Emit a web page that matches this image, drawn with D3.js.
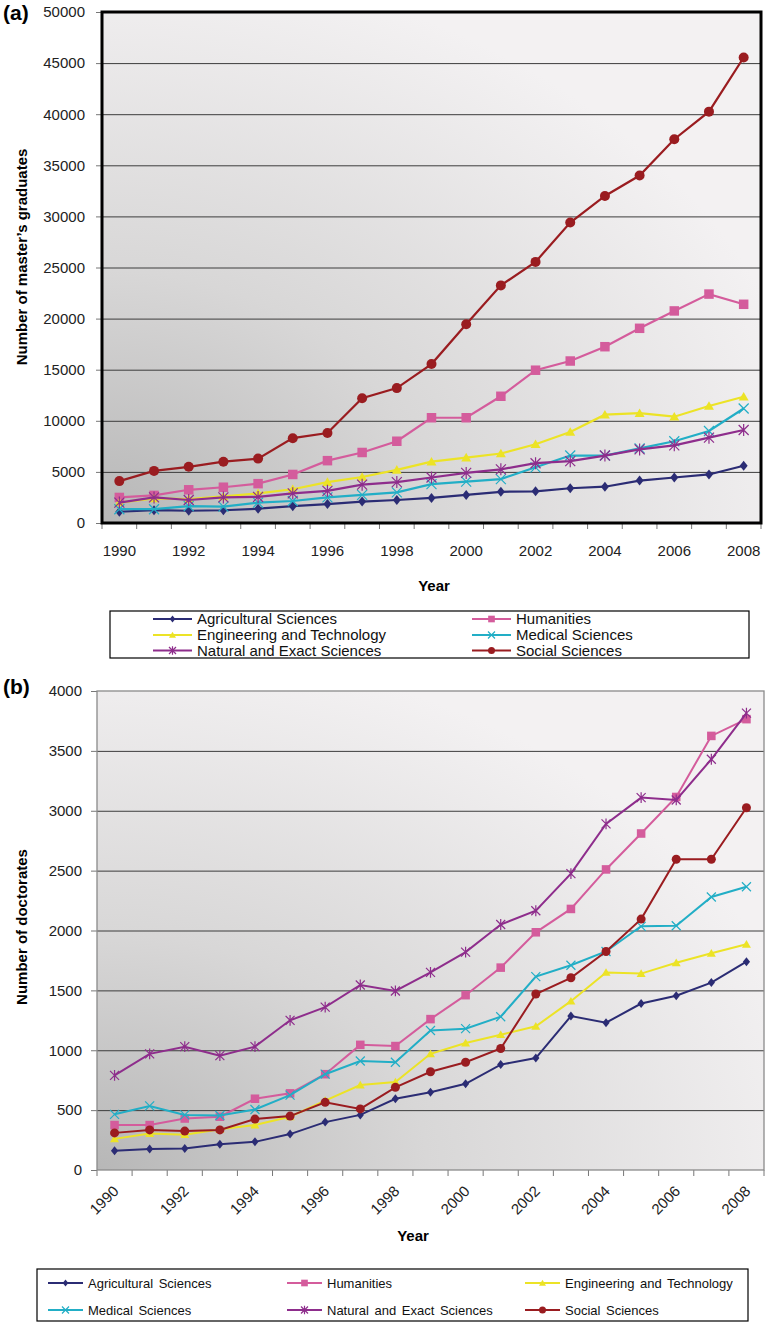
<!DOCTYPE html>
<html>
<head>
<meta charset="utf-8">
<script src="https://cdn.jsdelivr.net/npm/d3@7"></script>
<style>
  body { margin: 0; background: #fff; }
  svg { display: block; font-family: "Liberation Sans", Arial, sans-serif; }
</style>
</head>
<body>
<div id="chart"></div>
<script>
// categories
var years = [1990, 1991, 1992, 1993, 1994, 1995, 1996, 1997, 1998, 1999,
             2000, 2001, 2002, 2003, 2004, 2005, 2006, 2007, 2008];
var yearLabels = [1990, 1992, 1994, 1996, 1998, 2000, 2002, 2004, 2006, 2008];
var seriesNames = ["Agricultural Sciences", "Humanities", "Engineering and Technology",
                   "Medical Sciences", "Natural and Exact Sciences", "Social Sciences"];
var seriesColors = ["#2b2c74", "#d45c9c", "#ece326", "#22aec6", "#8e2d8c", "#9a1c20"];
var seriesMarkers = ["diamond", "square", "triangle", "cross", "star", "circle"];

// (a) master's graduates
var mastersTicks = [0, 5000, 10000, 15000, 20000, 25000, 30000, 35000, 40000, 45000, 50000];
var mastersAgri = [1100, 1250, 1200, 1250, 1400, 1650, 1850, 2100, 2250, 2450, 2750, 3050, 3100, 3400, 3550, 4150, 4450, 4750, 5600];
var mastersHum  = [2500, 2700, 3250, 3500, 3850, 4750, 6100, 6900, 8000, 10300, 10300, 12400, 14950, 15850, 17250, 19050, 20750, 22400, 21400];
var mastersEng  = [2000, 2400, 2350, 2600, 2900, 3300, 4000, 4500, 5200, 6000, 6400, 6800, 7700, 8900, 10600, 10750, 10400, 11450, 12350];
var mastersMed  = [1350, 1350, 1650, 1600, 2000, 2150, 2500, 2750, 3000, 3800, 4050, 4300, 5450, 6600, 6600, 7300, 8000, 9000, 11200];
var mastersNat  = [2000, 2500, 2250, 2500, 2550, 2900, 3150, 3750, 4000, 4450, 4900, 5250, 5850, 6050, 6600, 7200, 7600, 8350, 9100];
var mastersSoc  = [4100, 5100, 5500, 6000, 6300, 8300, 8800, 12200, 13200, 15550, 19450, 23250, 25550, 29400, 32000, 34000, 37550, 40250, 45550];

// (b) doctorates
var doctorTicks = [0, 500, 1000, 1500, 2000, 2500, 3000, 3500, 4000];
var doctorAgri = [160, 175, 180, 215, 235, 300, 400, 460, 595, 650, 720, 880, 935, 1285, 1230, 1390, 1455, 1565, 1740];
var doctorHum  = [375, 375, 430, 445, 595, 640, 800, 1045, 1035, 1260, 1460, 1690, 1985, 2180, 2510, 2810, 3115, 3625, 3765];
var doctorEng  = [260, 305, 295, 340, 375, 445, 580, 710, 735, 970, 1060, 1130, 1200, 1410, 1650, 1640, 1730, 1810, 1885];
var doctorMed  = [465, 535, 460, 455, 505, 625, 800, 910, 900, 1165, 1180, 1280, 1615, 1710, 1825, 2035, 2040, 2280, 2365];
var doctorNat  = [790, 970, 1030, 955, 1030, 1250, 1360, 1545, 1495, 1650, 1820, 2050, 2165, 2475, 2890, 3110, 3090, 3430, 3815];
var doctorSoc  = [310, 335, 325, 335, 425, 450, 565, 510, 690, 820, 900, 1015, 1470, 1605, 1825, 2095, 2595, 2595, 3025];

var svg = d3.select("#chart").append("svg")
  .attr("width", 768)
  .attr("height", 1328);

var defs = svg.append("defs");

// gray shading, darkest in the lower left corner
function addGradient(id) {
  var grad = defs.append("radialGradient")
    .attr("id", id)
    .attr("cx", 0).attr("cy", 1).attr("fx", 0).attr("fy", 1).attr("r", 1.1);
  grad.append("stop").attr("offset", "0%").attr("stop-color", "#b7b7b7");
  grad.append("stop").attr("offset", "45%").attr("stop-color", "#d8d7d7");
  grad.append("stop").attr("offset", "100%").attr("stop-color", "#f3f1f2");
}
addGradient("bgA");
addGradient("bgB");

function markerPath(type, s) {
  if (type == "diamond") return `M0,${-s}L${s * 0.8},0L0,${s}L${-s * 0.8},0Z`;
  if (type == "square") return `M${-s},${-s}H${s}V${s}H${-s}Z`;
  if (type == "triangle") return `M0,${-s}L${s * 1.05},${s * 0.8}L${-s * 1.05},${s * 0.8}Z`;
  if (type == "cross") return `M${-s},${-s}L${s},${s}M${-s},${s}L${s},${-s}`;
  if (type == "star") return `M${-s},${-s}L${s},${s}M${-s},${s}L${s},${-s}M0,${-s * 1.2}L0,${s * 1.2}`;
  return "";
}

function drawMarker(sel, i, size) {
  var type = seriesMarkers[i];
  var col = seriesColors[i];
  if (type == "circle") {
    sel.append("circle").attr("r", size).attr("fill", col);
  } else if (type == "cross" || type == "star") {
    sel.append("path").attr("d", markerPath(type, size))
      .attr("stroke", col).attr("stroke-width", 1.2).attr("fill", "none");
  } else {
    var k = type == "diamond" ? 1.0 : 0.95;
    sel.append("path").attr("d", markerPath(type, size * k)).attr("fill", col);
  }
}

function drawChart(opt) {
  var x = d3.scaleBand().domain(years).range([opt.left, opt.right]);
  var y = d3.scaleLinear().domain([0, opt.yMax]).range([opt.bottom, opt.top]);
  var g = svg.append("g");

  g.append("rect")
    .attr("x", opt.left).attr("y", opt.top)
    .attr("width", opt.right - opt.left).attr("height", opt.bottom - opt.top)
    .attr("fill", `url(#${opt.bg})`);

  // gridlines
  g.append("g")
    .attr("transform", `translate(${opt.left},0)`)
    .call(d3.axisLeft(y).tickValues(opt.ticks.slice(1, -1)).tickSize(-(opt.right - opt.left)).tickFormat(""))
    .call(a => a.select(".domain").remove())
    .selectAll("line").attr("stroke", "#3c3c3c").attr("stroke-width", 1);

  // y axis labels
  var yAxis = g.append("g")
    .attr("transform", `translate(${opt.left},0)`)
    .call(d3.axisLeft(y).tickValues(opt.ticks).tickFormat(d3.format("d")).tickSize(6).tickPadding(opt.yPad));
  yAxis.select(".domain").remove();
  yAxis.selectAll("line").attr("stroke", "#777");
  yAxis.selectAll("text").attr("font-size", 15).attr("fill", "#222")
    .attr("font-family", "Liberation Sans, Arial, sans-serif");

  // x tick marks sit between the years
  var edges = years.map(d => x(d)).concat([opt.right]);
  g.selectAll("line.xtick").data(edges).enter().append("line")
    .attr("x1", d => d).attr("x2", d => d)
    .attr("y1", opt.bottom).attr("y2", opt.bottom + 6)
    .attr("stroke", "#777");

  var xAxis = g.append("g")
    .attr("transform", `translate(0,${opt.bottom})`)
    .call(d3.axisBottom(x).tickValues(yearLabels).tickSize(0).tickPadding(opt.xPad));
  xAxis.select(".domain").remove();
  xAxis.selectAll("text").attr("font-size", 15).attr("fill", "#222")
    .attr("font-family", "Liberation Sans, Arial, sans-serif");
  if (opt.rotate) {
    xAxis.selectAll("text")
      .attr("y", 0).attr("dy", 0)
      .attr("text-anchor", "end")
      .attr("transform", "translate(5,22) rotate(-45)");
  }

  // series
  var line = d3.line()
    .x((d, i) => x(years[i]) + x.bandwidth() / 2)
    .y(d => y(d));

  opt.series.forEach(function(vals, i) {
    g.append("path")
      .datum(vals)
      .attr("d", line)
      .attr("fill", "none")
      .attr("stroke", seriesColors[i])
      .attr("stroke-width", opt.lineW);

    var pts = g.selectAll(null).data(vals).enter().append("g")
      .attr("transform", (d, j) => `translate(${x(years[j]) + x.bandwidth() / 2},${y(d)})`);
    pts.each(function() { drawMarker(d3.select(this), i, opt.markerSize); });
  });

  g.append("rect")
    .attr("x", opt.left).attr("y", opt.top)
    .attr("width", opt.right - opt.left).attr("height", opt.bottom - opt.top)
    .attr("fill", "none")
    .attr("stroke", opt.borderColor)
    .attr("stroke-width", opt.borderW);

  // titles
  svg.append("text")
    .attr("transform", `translate(${opt.yTitleX},${opt.yTitleY}) rotate(-90)`)
    .attr("text-anchor", "middle")
    .attr("font-size", 15).attr("font-weight", "bold")
    .text(opt.yTitle);

  svg.append("text")
    .attr("x", opt.xTitleX).attr("y", opt.xTitleY)
    .attr("text-anchor", "middle")
    .attr("font-size", 15).attr("font-weight", "bold")
    .text("Year");

  svg.append("text")
    .attr("x", 3).attr("y", opt.tagY)
    .attr("font-size", 21).attr("font-weight", "bold")
    .text(opt.tag);
}

function drawLegend(opt) {
  svg.append("rect")
    .attr("x", opt.x).attr("y", opt.y)
    .attr("width", opt.w).attr("height", opt.h)
    .attr("fill", "#fff").attr("stroke", "#000").attr("stroke-width", 1.2);

  seriesNames.forEach(function(name, i) {
    var lx = opt.cols[i % opt.cols.length];
    var ly = opt.rows[Math.floor(i / opt.cols.length)];
    var item = svg.append("g").attr("transform", `translate(${lx},${ly})`);
    item.append("line")
      .attr("x1", 0).attr("x2", opt.lineLen)
      .attr("stroke", seriesColors[i]).attr("stroke-width", 2);
    drawMarker(item.append("g").attr("transform", `translate(${opt.lineLen / 2},0)`), i, opt.markerSize);
    item.append("text")
      .attr("x", opt.lineLen + opt.gap)
      .attr("dy", "0.36em")
      .attr("font-size", opt.fontSize)
      .attr("word-spacing", opt.wordSpacing)
      .attr("fill", "#111")
      .text(name);
  });
}

drawChart({
  left: 102, right: 761, top: 12, bottom: 523,
  yMax: 50000, ticks: mastersTicks, bg: "bgA",
  series: [mastersAgri, mastersHum, mastersEng, mastersMed, mastersNat, mastersSoc],
  yPad: 11, xPad: 22, rotate: false,
  lineW: 2.2, markerSize: 5,
  borderColor: "#000", borderW: 3,
  yTitle: "Number of master\u2019s graduates", yTitleX: 27, yTitleY: 257,
  xTitleX: 434, xTitleY: 591,
  tag: "(a)", tagY: 20
});

drawLegend({
  x: 110, y: 611, w: 639, h: 47,
  cols: [153, 472], rows: [619, 635, 650.5],
  lineLen: 39, gap: 5, markerSize: 3.5, fontSize: 15, wordSpacing: 0
});

drawChart({
  left: 97, right: 764, top: 691, bottom: 1170,
  yMax: 4000, ticks: doctorTicks, bg: "bgB",
  series: [doctorAgri, doctorHum, doctorEng, doctorMed, doctorNat, doctorSoc],
  yPad: 9, xPad: 10, rotate: true,
  lineW: 2, markerSize: 4.5,
  borderColor: "#8a8a8a", borderW: 1.3,
  yTitle: "Number of doctorates", yTitleX: 27, yTitleY: 927,
  xTitleX: 413, xTitleY: 1241,
  tag: "(b)", tagY: 694
});

drawLegend({
  x: 37, y: 1269, w: 711, h: 52,
  cols: [48, 287, 525], rows: [1283, 1310],
  lineLen: 35, gap: 5, markerSize: 3.5, fontSize: 13, wordSpacing: 2
});
</script>
</body>
</html>
